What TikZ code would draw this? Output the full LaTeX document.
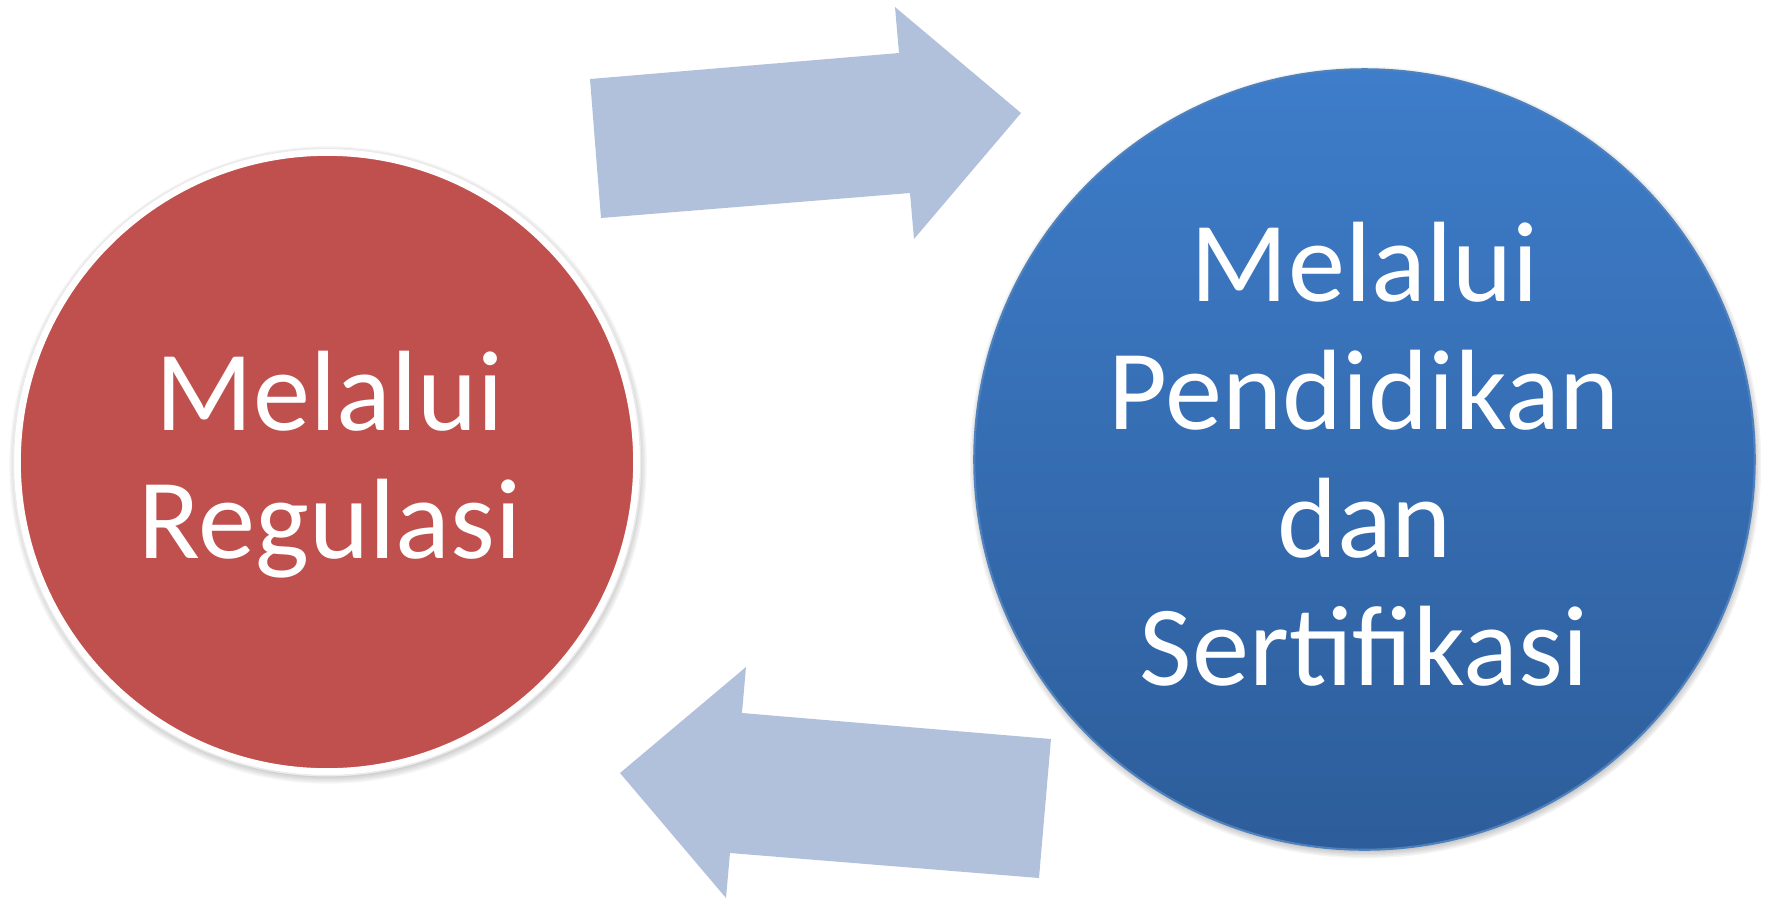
\documentclass[tikz,border=0pt]{standalone}
\usepackage{fontspec}
\setmainfont{Carlito}
\usetikzlibrary{backgrounds}
\definecolor{ballred}{RGB}{192,80,77}
\definecolor{balltop}{RGB}{62,125,202}
\definecolor{ballbottom}{RGB}{45,93,154}
\definecolor{ballrim}{RGB}{79,129,189}
\definecolor{arrowblue}{RGB}{177,193,220}
\begin{document}
\begin{tikzpicture}[x=0.01cm, y=-0.01cm,
    redball/.style={circle, inner sep=0pt, minimum size=6.19cm, fill=ballred, draw=white, line width=0.07cm},
    blueball/.style={circle, inner sep=0pt, minimum size=7.8cm, top color=balltop, bottom color=ballbottom, draw=ballrim, line width=0.6pt},
    balltext/.style={text=white, align=center, font=\fontsize{32.5}{36.4}\selectfont},
    blockarrow/.style={fill=arrowblue}]
  \useasboundingbox (0,0) rectangle (1768,899);
  % the two circles
  \node[redball] (regulasi) at (327,462) {};
  \node[blueball] (sertifikasi) at (1364.5,459.5) {};
  \draw[black!8, line width=0.4pt] (regulasi.center) circle (3.135cm);
  % soft shadows
  \begin{scope}[on background layer]
    \foreach \k in {1,...,5} {
      \fill[black, opacity=0.04] ([shift={(1,3)}]regulasi.center) circle ({3.11cm+\k*0.015cm});
      \fill[black, opacity=0.045] ([shift={(1,3)}]sertifikasi.center) circle ({3.88cm+\k*0.015cm});
    }
  \end{scope}
  % labels
  \node[balltext, xshift=0.03cm, yshift=-0.025cm] at (regulasi.center) {Melalui\\Regulasi};
  \node[balltext, yshift=0.05cm] at (sertifikasi.center) {Melalui\\Pendidikan\\dan\\Sertifikasi};
  % block arrows
  \fill[blockarrow] (590,79) -- (899,53) -- (895,7) -- (1021,113) -- (914,239) -- (910,193) -- (601,218) -- cycle;
  \fill[blockarrow] (1051,739) -- (742,713) -- (746,667) -- (620,773) -- (726,898) -- (730,853) -- (1039,878) -- cycle;
\end{tikzpicture}
\end{document}
